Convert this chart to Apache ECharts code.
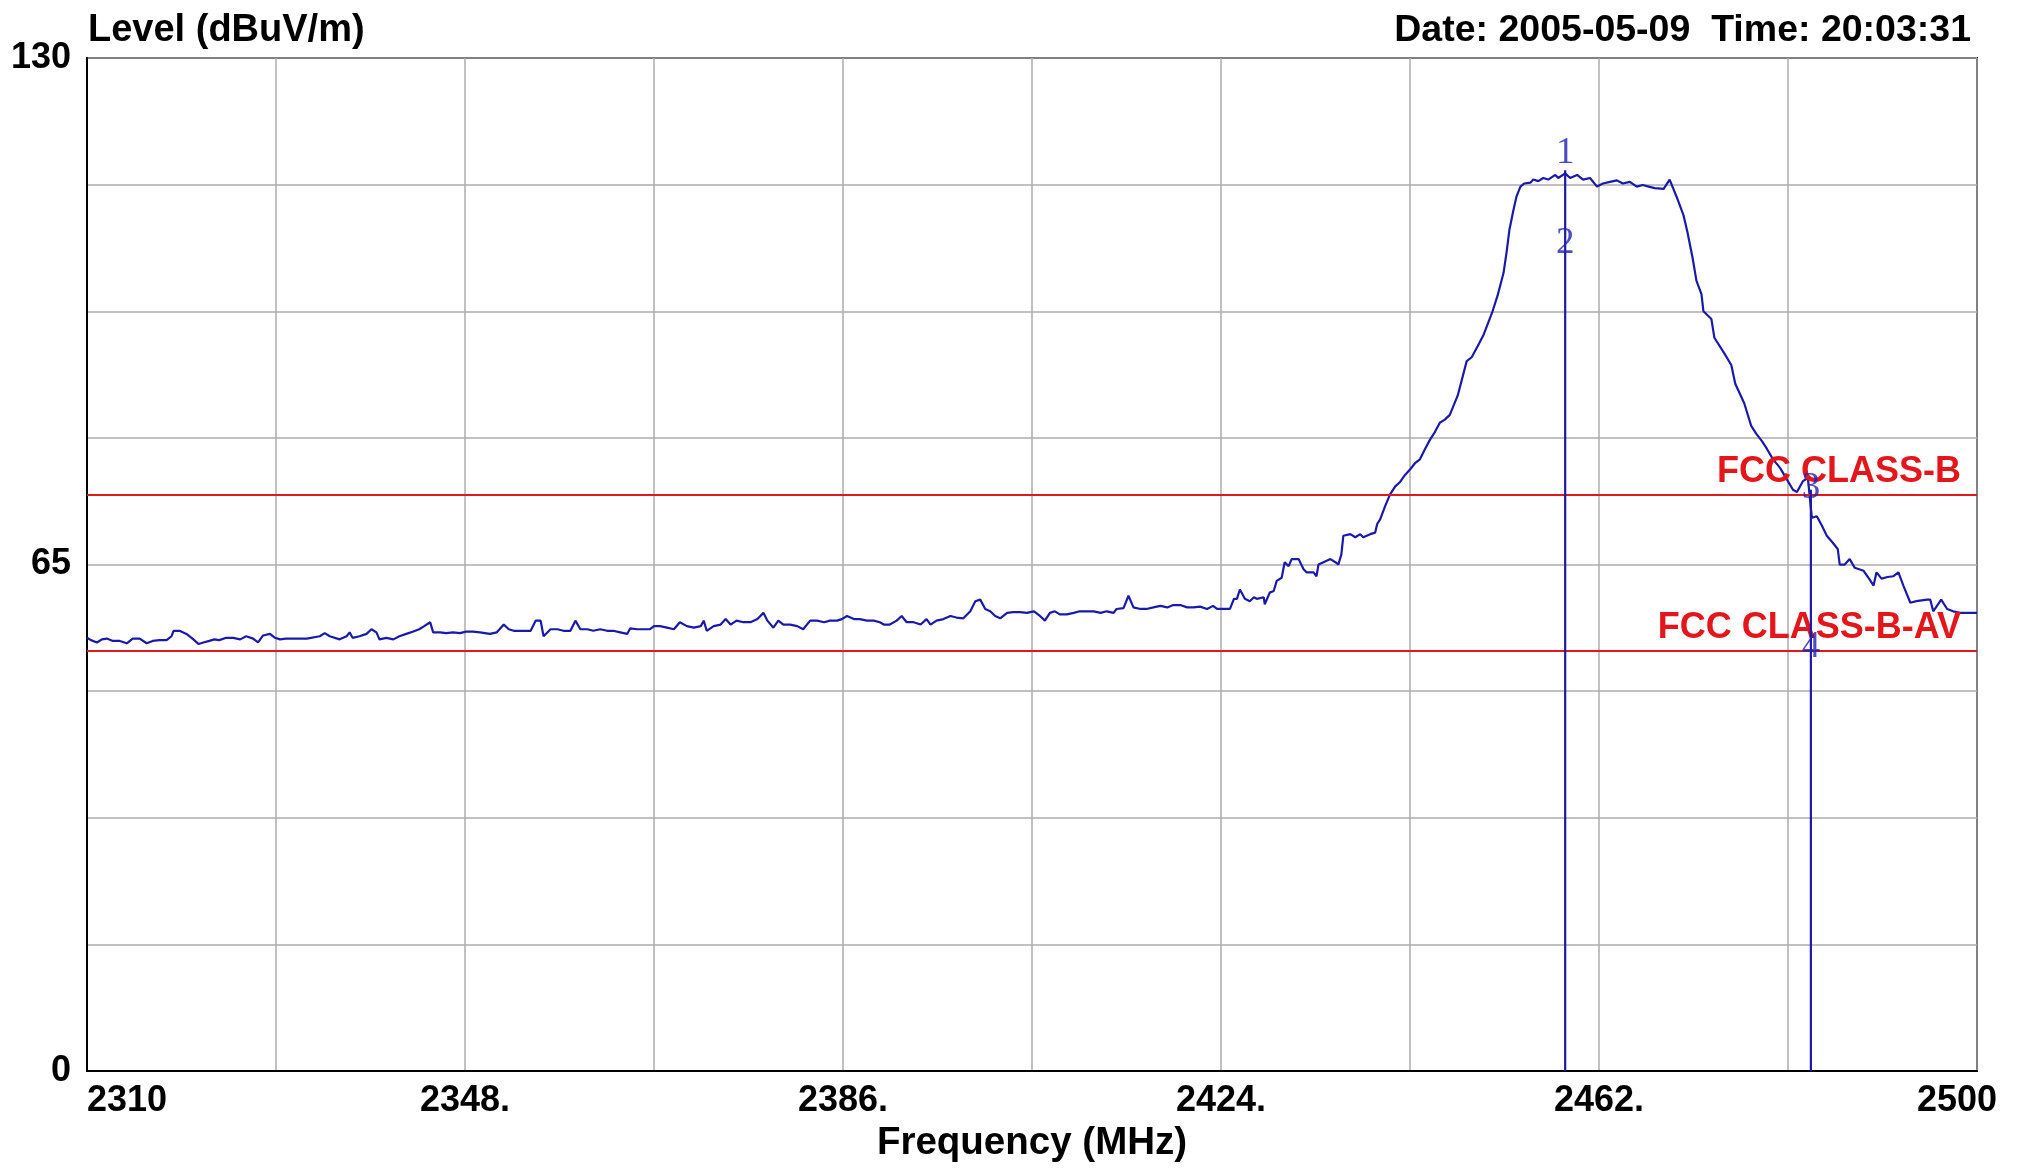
<!DOCTYPE html>
<html>
<head>
<meta charset="utf-8">
<script src="https://cdn.jsdelivr.net/npm/echarts@6/dist/echarts.min.js"></script>
<style>
html,body{margin:0;padding:0;background:#fff;}
#chart{width:2026px;height:1168px;}
</style>
</head>
<body>
<div id="chart"></div>
<script>
// ---- data ----
const traceFreq = [
2310.0,2310.4,2311.0,2311.5,2312.0,2312.6,2313.3,2314.0,2314.6,2315.3,2316.0,2316.6,2317.3,2318.0,2318.5,2318.7,2319.3,2320.0,2320.7,2321.2,
2321.7,2322.3,2322.8,2323.3,2324.0,2324.7,2325.4,2326.0,2326.7,2327.2,2327.7,2328.4,2328.9,2329.4,2330.0,2331.4,2332.1,2333.4,2333.9,2334.4,
2335.4,2336.1,2336.4,2336.7,2337.4,2338.1,2338.6,2339.1,2339.4,2340.1,2340.8,2341.4,2342.1,2342.8,2343.4,2343.9,2344.5,2344.8,2345.5,2346.1,
2346.8,2347.5,2348.1,2348.8,2349.5,2350.5,2351.2,2351.9,2352.4,2352.9,2353.9,2354.6,2355.1,2355.6,2355.9,2356.6,2357.3,2357.9,2358.6,2359.1,
2359.6,2360.3,2360.9,2361.6,2362.3,2362.9,2363.6,2364.3,2364.6,2365.3,2366.0,2366.6,2367.0,2367.6,2368.3,2369.0,2369.6,2370.3,2371.0,2371.7,
2372.0,2372.3,2373.0,2373.7,2374.2,2374.7,2375.3,2376.0,2376.7,2377.4,2378.0,2378.4,2379.0,2379.5,2380.0,2380.7,2381.4,2382.0,2382.7,2383.4,
2384.1,2384.7,2385.4,2385.9,2386.4,2387.1,2387.7,2388.4,2389.1,2389.7,2390.1,2390.7,2391.4,2391.9,2392.4,2393.1,2393.8,2394.4,2394.8,2395.4,
2396.1,2396.8,2397.4,2398.1,2398.8,2399.3,2399.8,2400.3,2400.8,2401.3,2401.8,2402.5,2403.1,2403.8,2404.5,2405.2,2405.8,2406.3,2406.8,2407.3,
2407.8,2408.5,2409.2,2409.8,2410.5,2411.2,2411.9,2412.5,2413.2,2413.5,2414.2,2414.7,2415.2,2415.9,2416.5,2417.2,2417.9,2418.6,2419.2,2419.9,
2420.6,2421.2,2421.9,2422.6,2423.2,2423.6,2424.2,2424.9,2425.3,2425.6,2425.9,2426.4,2426.9,2427.3,2427.6,2428.3,2428.4,2428.9,2429.3,2429.6,
2430.1,2430.4,2430.8,2431.1,2431.8,2432.3,2432.6,2433.3,2433.6,2433.8,2434.3,2435.0,2435.5,2435.8,2436.1,2436.3,2437.0,2437.5,2438.0,2438.3,
2439.0,2439.5,2439.7,2440.0,2440.5,2441.0,2441.5,2442.0,2442.5,2443.0,2443.5,2444.0,2444.5,2445.0,2445.5,2446.0,2446.5,2447.0,2447.8,2448.7,
2449.2,2449.8,2450.4,2451.3,2451.8,2452.4,2452.7,2453.0,2453.4,2453.7,2454.1,2454.5,2455.1,2455.4,2455.9,2456.4,2456.9,2457.6,2457.9,2458.6,
2459.1,2459.8,2460.4,2461.1,2461.8,2462.4,2463.1,2463.8,2464.4,2465.1,2465.8,2466.4,2467.0,2467.6,2468.5,2469.1,2469.8,2470.5,2470.9,2471.4,
2471.8,2472.3,2472.5,2473.3,2473.6,2474.6,2475.3,2475.7,2476.6,2477.3,2477.8,2478.4,2478.9,2479.5,2480.2,2480.9,2481.5,2481.9,2482.5,2483.0,
2483.2,2483.4,2483.9,2484.4,2484.9,2485.5,2486.0,2486.2,2486.7,2487.2,2487.7,2488.6,2489.2,2489.6,2489.9,2490.4,2491.0,2491.6,2492.1,2492.6,
2493.3,2493.9,2495.0,2495.3,2495.6,2496.4,2497.0,2497.6,2498.3,2499.0,2500.0
];
const traceLevel = [
55.6,55.3,55.0,55.4,55.5,55.2,55.2,54.9,55.5,55.5,54.9,55.2,55.3,55.3,55.8,56.5,56.5,56.1,55.4,54.8,
55.0,55.2,55.4,55.3,55.6,55.6,55.4,55.8,55.5,55.0,55.9,56.1,55.6,55.4,55.5,55.5,55.5,55.8,56.2,55.8,
55.4,55.8,56.3,55.6,55.8,56.1,56.7,56.3,55.4,55.6,55.4,55.8,56.1,56.4,56.7,57.1,57.6,56.3,56.3,56.2,
56.3,56.2,56.4,56.4,56.3,56.1,56.3,57.3,56.7,56.5,56.5,56.5,57.8,57.8,55.8,56.7,56.7,56.5,56.5,57.8,
56.7,56.7,56.5,56.7,56.5,56.5,56.3,56.1,56.8,56.7,56.7,56.7,57.1,57.1,56.9,56.7,57.6,57.1,56.9,57.1,
57.8,56.5,57.1,57.3,58.0,57.3,57.8,57.6,57.6,58.0,58.8,57.8,56.9,57.8,57.3,57.3,57.1,56.7,57.8,57.8,
57.6,57.8,57.8,58.0,58.4,58.0,58.0,57.8,57.8,57.6,57.3,57.3,57.8,58.4,57.6,57.6,57.3,58.0,57.3,57.8,
58.0,58.4,58.2,58.1,59.0,60.3,60.5,59.3,59.0,58.4,58.1,58.8,58.9,58.9,58.8,59.0,58.4,57.8,58.8,59.0,
58.6,58.6,58.8,59.0,59.0,59.0,58.8,59.0,58.8,59.3,59.4,61.0,59.5,59.3,59.3,59.5,59.7,59.5,59.8,59.8,
59.5,59.5,59.6,59.3,59.7,59.3,59.3,59.3,60.6,60.6,61.8,60.6,60.3,60.8,60.6,60.8,59.9,61.4,61.6,62.9,
63.3,65.3,64.8,65.7,65.7,64.4,64.0,64.0,63.5,65.0,65.3,65.7,65.3,65.0,66.3,68.7,68.9,68.5,68.9,68.5,
68.9,69.1,70.2,70.8,72.5,74.0,75.0,75.6,76.5,77.2,78.0,78.5,79.8,81.0,82.0,83.2,83.6,84.2,86.7,91.1,
91.6,93.0,94.5,97.5,99.5,102.4,105.0,108.0,110.5,112.2,113.5,113.9,114.0,114.4,114.2,114.6,114.4,115.0,114.6,115.2,
114.6,115.0,114.4,114.6,113.5,113.9,114.1,114.3,113.9,114.1,113.5,113.7,113.5,113.3,113.2,114.4,112.2,109.8,107.6,104.4,
101.4,99.7,97.5,96.5,94.1,92.1,90.6,88.2,85.7,82.8,81.8,80.8,79.8,78.5,77.4,75.9,74.6,74.3,75.7,76.1,
73.5,71.0,71.2,70.0,68.7,67.8,67.0,65.0,65.0,65.7,64.6,64.2,63.1,62.3,64.0,63.2,63.4,63.5,64.0,62.3,
60.1,60.3,60.5,60.5,59.0,60.5,59.3,59.0,58.8,58.8,58.8
];
const xLabelValues = [2310, 2348, 2386, 2424, 2462, 2500];
const xLabelTexts  = ['2310', '2348.', '2386.', '2424.', '2462.', '2500'];
const yLabelValues = [0, 65, 130];
const limitNames  = ['FCC CLASS-B', 'FCC CLASS-B-AV'];
const limitLevels = [74, 54];
const markerNames = ['1', '2', '3', '4'];
const markerFreq  = [2458.6, 2458.6, 2483.3, 2483.3];
const markerLevel = [115.2, 106.2, 74.8, 54.4];
const markerLineFreq = [2458.6, 2483.3];
const markerLineTop  = [115.6, 74.6];
const yAxisTitle = 'Level (dBuV/m)';
const xAxisTitle = 'Frequency (MHz)';
const dateText = 'Date: 2005-05-09  Time: 20:03:31';

// ---- chart ----
const FONT = '"Liberation Sans", Arial, sans-serif';
const BLUE = '#1a1aaa';
const RED = '#e3161c';
const chart = echarts.init(document.getElementById('chart'), null, {renderer: 'canvas'});

const series = [];
series.push({
  type: 'line',
  data: traceFreq.map((f, i) => [f, traceLevel[i]]),
  showSymbol: false,
  lineStyle: {color: BLUE, width: 2.2},
  z: 4,
  animation: false
});
markerLineFreq.forEach((f, i) => {
  series.push({
    type: 'line',
    data: [[f, 0], [f, markerLineTop[i]]],
    showSymbol: false,
    lineStyle: {color: BLUE, width: 2.2},
    z: 5,
    animation: false
  });
});
series.push({
  type: 'line',
  data: [],
  animation: false,
  markLine: {
    symbol: 'none',
    silent: true,
    animation: false,
    lineStyle: {color: RED, width: 2, type: 'solid'},
    label: {
      show: true,
      position: 'insideEndTop',
      formatter: '{b}',
      color: RED,
      fontFamily: FONT,
      fontWeight: 'bold',
      fontSize: 36,
      distance: [16, 4]
    },
    data: limitLevels.map((v, i) => ({yAxis: v, name: limitNames[i]}))
  },
  z: 3
});
series.push({
  type: 'scatter',
  data: markerFreq.map((f, i) => ({value: [f, markerLevel[i]], name: markerNames[i],
    label: {position: i === 0 ? 'top' : 'inside', distance: 1}})),
  symbolSize: 1,
  itemStyle: {color: 'rgba(0,0,0,0)'},
  label: {
    show: true,
    formatter: '{b}',
    color: '#2020b4',
    fontFamily: '"Liberation Serif", "Times New Roman", serif',
    fontSize: 37
  },
  z: 6,
  animation: false
});

chart.setOption({
  backgroundColor: '#ffffff',
  animation: false,
  title: [
    {text: yAxisTitle, left: 83, top: 7,
     textStyle: {fontFamily: FONT, fontWeight: 'bold', fontSize: 38, color: '#000'}},
    {text: dateText, right: 50, top: 7,
     textStyle: {fontFamily: FONT, fontWeight: 'bold', fontSize: 37.5, color: '#000'}}
  ],
  grid: {left: 87, right: 49, top: 58, bottom: 96, show: true, borderColor: '#000', borderWidth: 2, containLabel: false},
  xAxis: {
    type: 'value', min: 2310, max: 2500, interval: 19,
    name: xAxisTitle, nameLocation: 'middle', nameGap: 50,
    nameTextStyle: {fontFamily: FONT, fontWeight: 'bold', fontSize: 38.5, color: '#000'},
    axisLine: {show: true, lineStyle: {color: '#000', width: 2}},
    axisTick: {show: false},
    splitLine: {show: true, lineStyle: {color: '#acacac', width: 1.5}},
    axisLabel: {
      margin: 12,
      fontFamily: FONT, fontWeight: 'bold', fontSize: 36, color: '#000',
      alignMinLabel: 'left',
      formatter: function (v) {
        const k = xLabelValues.findIndex(x => Math.abs(x - v) < 1e-6);
        if (k < 0) return '';
        if (k === xLabelValues.length - 1) return '{m|' + xLabelTexts[k] + '}';
        return xLabelTexts[k];
      },
      rich: {m: {fontFamily: FONT, fontWeight: 'bold', fontSize: 36, color: '#000', padding: [0, 40, 0, 0]}}
    }
  },
  yAxis: {
    type: 'value', min: 0, max: 130, interval: 16.25,
    axisLine: {show: true, lineStyle: {color: '#000', width: 2}},
    axisTick: {show: false},
    splitLine: {show: true, lineStyle: {color: '#acacac', width: 1.5}},
    axisLabel: {
      margin: 16,
      fontFamily: FONT, fontWeight: 'bold', fontSize: 36, color: '#000',
      formatter: function (v) {
        return yLabelValues.some(y => Math.abs(y - v) < 1e-6) ? String(Math.round(v)) : '';
      }
    }
  },
  series: series
});
</script>
</body>
</html>
